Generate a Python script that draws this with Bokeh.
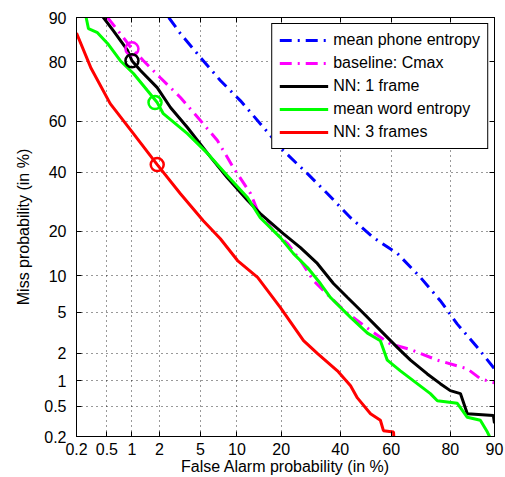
from statistics import NormalDist
from bokeh.plotting import figure
from bokeh.models import (Range1d, FixedTicker, CustomJSTickFormatter, LinearAxis,
                          Legend, LegendItem)
from bokeh.embed import file_html
from bokeh.resources import INLINE

# ---------------- data (percent) ----------------
tick_vals = [0.2, 0.5, 1, 2, 5, 10, 20, 40, 60, 80, 90]
tick_labels = ["0.2", "0.5", "1", "2", "5", "10", "20", "40", "60", "80", "90"]

phone_fa = [2.5, 3.26, 5.0, 7.4, 10.6, 14.7, 20.6, 28.1, 35.2, 44.0, 53.1, 62.4, 70.7, 77.1, 81.9, 86.7, 90.0]
phone_miss = [90.0, 86.9, 81.2, 74.4, 67.6, 59.0, 48.4, 39.4, 32.0, 24.0, 18.3, 14.4, 9.7, 6.3, 3.9, 2.3, 1.37]

cmax_fa = [0.51, 0.73, 1.0, 1.35, 2.05, 3.26, 5.0, 7.0, 9.4, 12.6, 14.1, 17.9, 21.8, 25.8, 30.1, 36.3, 42.8, 51.9, 59.7, 67.2, 76.2, 84.4, 87.3, 90.0]
cmax_miss = [90.0, 86.9, 83.4, 80.3, 75.3, 68.7, 60.2, 52.4, 41.7, 32.0, 26.2, 20.2, 16.8, 12.9, 9.2, 6.7, 4.9, 3.4, 2.5, 2.2, 1.7, 1.37, 1.06, 0.95]

nn1_fa = [0.44, 0.60, 0.89, 1.0, 1.25, 1.9, 2.6, 3.8, 5.8, 8.4, 12.0, 14.7, 20.6, 25.8, 31.5, 37.4, 42.8, 49.1, 55.8, 62.4, 67.2, 73.0, 77.1, 80.0, 82.7, 84.4, 89.8, 90.0]
nn1_miss = [90.2, 87.5, 83.0, 80.3, 77.5, 72.1, 65.1, 57.5, 47.2, 37.9, 29.6, 25.3, 19.4, 15.8, 12.3, 8.7, 6.7, 4.9, 3.4, 2.3, 1.7, 1.2, 0.93, 0.77, 0.71, 0.40, 0.38, 0.30]

word_fa = [0.27, 0.29, 0.38, 0.51, 0.73, 1.04, 1.49, 1.9, 2.2, 3.8, 5.8, 8.4, 12.0, 14.7, 19.8, 23.6, 28.1, 32.6, 36.3, 44.0, 50.7, 55.8, 58.5, 63.5, 68.3, 74.0, 76.2, 81.9, 84.4, 87.3, 88.7, 89.1]
word_miss = [90.0, 87.9, 87.1, 84.7, 80.3, 76.6, 71.1, 66.9, 62.8, 55.1, 47.2, 38.7, 30.6, 24.0, 18.3, 14.4, 11.5, 8.7, 6.7, 4.5, 3.2, 2.7, 1.7, 1.3, 1.0, 0.71, 0.58, 0.54, 0.36, 0.33, 0.23, 0.2]

nn3_fa = [0.2, 0.31, 0.55, 1.04, 1.9, 3.26, 5.3, 7.4, 10.1, 14.1, 19.8, 26.8, 31.5, 38.9, 44.0, 46.7, 51.9, 55.8, 57.0, 60.9, 61.0]
nn3_miss = [87.0, 78.4, 66.5, 55.1, 42.9, 32.0, 23.1, 18.0, 12.9, 9.7, 5.5, 2.7, 2.0, 1.3, 0.88, 0.63, 0.40, 0.33, 0.24, 0.23, 0.2]

# operating points
op_fa = [1.0, 1.0, 1.8, 1.9]
op_miss = [83.4, 80.3, 66.9, 42.9]
op_colors = ["#ff00ff", "#000000", "#00ff00", "#ff0000"]

nd = NormalDist()


def pr(vals):
    return [nd.inv_cdf(v / 100.0) for v in vals]


FONT = "Liberation Sans"

p = figure(width=505, height=477, output_backend="svg", toolbar_location=None,
           x_range=Range1d(nd.inv_cdf(0.002), nd.inv_cdf(0.9)),
           y_range=Range1d(nd.inv_cdf(0.002), nd.inv_cdf(0.9)),
           min_border_left=76, min_border_right=11, min_border_top=17, min_border_bottom=41,
           x_axis_label="False Alarm probability (in %)",
           y_axis_label="Miss probability (in %)")
p.background_fill_color = "white"
p.border_fill_color = "white"
p.outline_line_color = "black"
p.outline_line_width = 1
p.outline_line_alpha = 1

tick_pos = pr(tick_vals)
fmt_code = """
for (let i = 0; i < pos.length; i++) {
  if (Math.abs(pos[i] - tick) < 1e-6) { return labels[i]; }
}
return "";
"""
for ax in (p.xaxis[0], p.yaxis[0]):
    ax.ticker = FixedTicker(ticks=tick_pos)
    ax.formatter = CustomJSTickFormatter(args=dict(pos=tick_pos, labels=tick_labels), code=fmt_code)
    ax.major_tick_in = 5
    ax.major_tick_out = 0
    ax.minor_tick_line_color = None
    ax.axis_line_color = "black"
    ax.major_tick_line_color = "black"
    ax.major_label_text_font = FONT
    ax.major_label_text_font_size = "16px"
    ax.major_label_text_color = "black"
    ax.axis_label_text_font = FONT
    ax.axis_label_text_font_size = "16px"
    ax.axis_label_text_font_style = "normal"
    ax.axis_label_text_color = "black"

p.xaxis.major_label_standoff = 6
p.xaxis.axis_label_standoff = 0
p.yaxis.major_label_standoff = 10
p.yaxis.axis_label_standoff = 9

for side in ("above", "right"):
    ax = LinearAxis(ticker=FixedTicker(ticks=tick_pos),
                    formatter=CustomJSTickFormatter(code="return '';"),
                    major_tick_in=5, major_tick_out=0, minor_tick_line_color=None,
                    major_tick_line_color="black",
                    major_label_text_font_size="0px", major_label_standoff=0,
                    axis_line_color="black")
    p.add_layout(ax, side)

for g in (p.xgrid[0], p.ygrid[0]):
    g.ticker = FixedTicker(ticks=tick_pos)
    g.grid_line_color = "black"
    g.grid_line_dash = "1 4"
    g.grid_line_width = 1
    g.grid_line_alpha = 0.8

r_phone = p.line(pr(phone_fa), pr(phone_miss), line_color="#0000ff", line_width=3,
                 line_dash="12 6 2 6")
r_cmax = p.line(pr(cmax_fa), pr(cmax_miss), line_color="#ff00ff", line_width=3,
                line_dash="12 6 2 6")
r_nn1 = p.line(pr(nn1_fa), pr(nn1_miss), line_color="#000000", line_width=3)
r_word = p.line(pr(word_fa), pr(word_miss), line_color="#00ff00", line_width=3)
r_nn3 = p.line(pr(nn3_fa), pr(nn3_miss), line_color="#ff0000", line_width=3)

p.scatter(pr(op_fa), pr(op_miss), marker="circle", size=13, fill_color=None,
          line_color=op_colors, line_width=2.5)

legend = Legend(items=[
    LegendItem(label="mean phone entropy", renderers=[r_phone]),
    LegendItem(label="baseline: Cmax", renderers=[r_cmax]),
    LegendItem(label="NN: 1 frame", renderers=[r_nn1]),
    LegendItem(label="mean word entropy", renderers=[r_word]),
    LegendItem(label="NN: 3 frames", renderers=[r_nn3]),
], location="top_right")
legend.margin = 6
legend.padding = 7
legend.spacing = 5
legend.glyph_width = 49
legend.glyph_height = 18
legend.label_height = 18
legend.label_standoff = 5
legend.label_text_font = FONT
legend.label_text_font_size = "16px"
legend.label_text_color = "black"
legend.border_line_color = "black"
legend.border_line_width = 1
legend.border_line_alpha = 1
legend.background_fill_color = "white"
legend.background_fill_alpha = 1
p.add_layout(legend, "center")

open("out.html", "w").write(file_html(p, INLINE))
